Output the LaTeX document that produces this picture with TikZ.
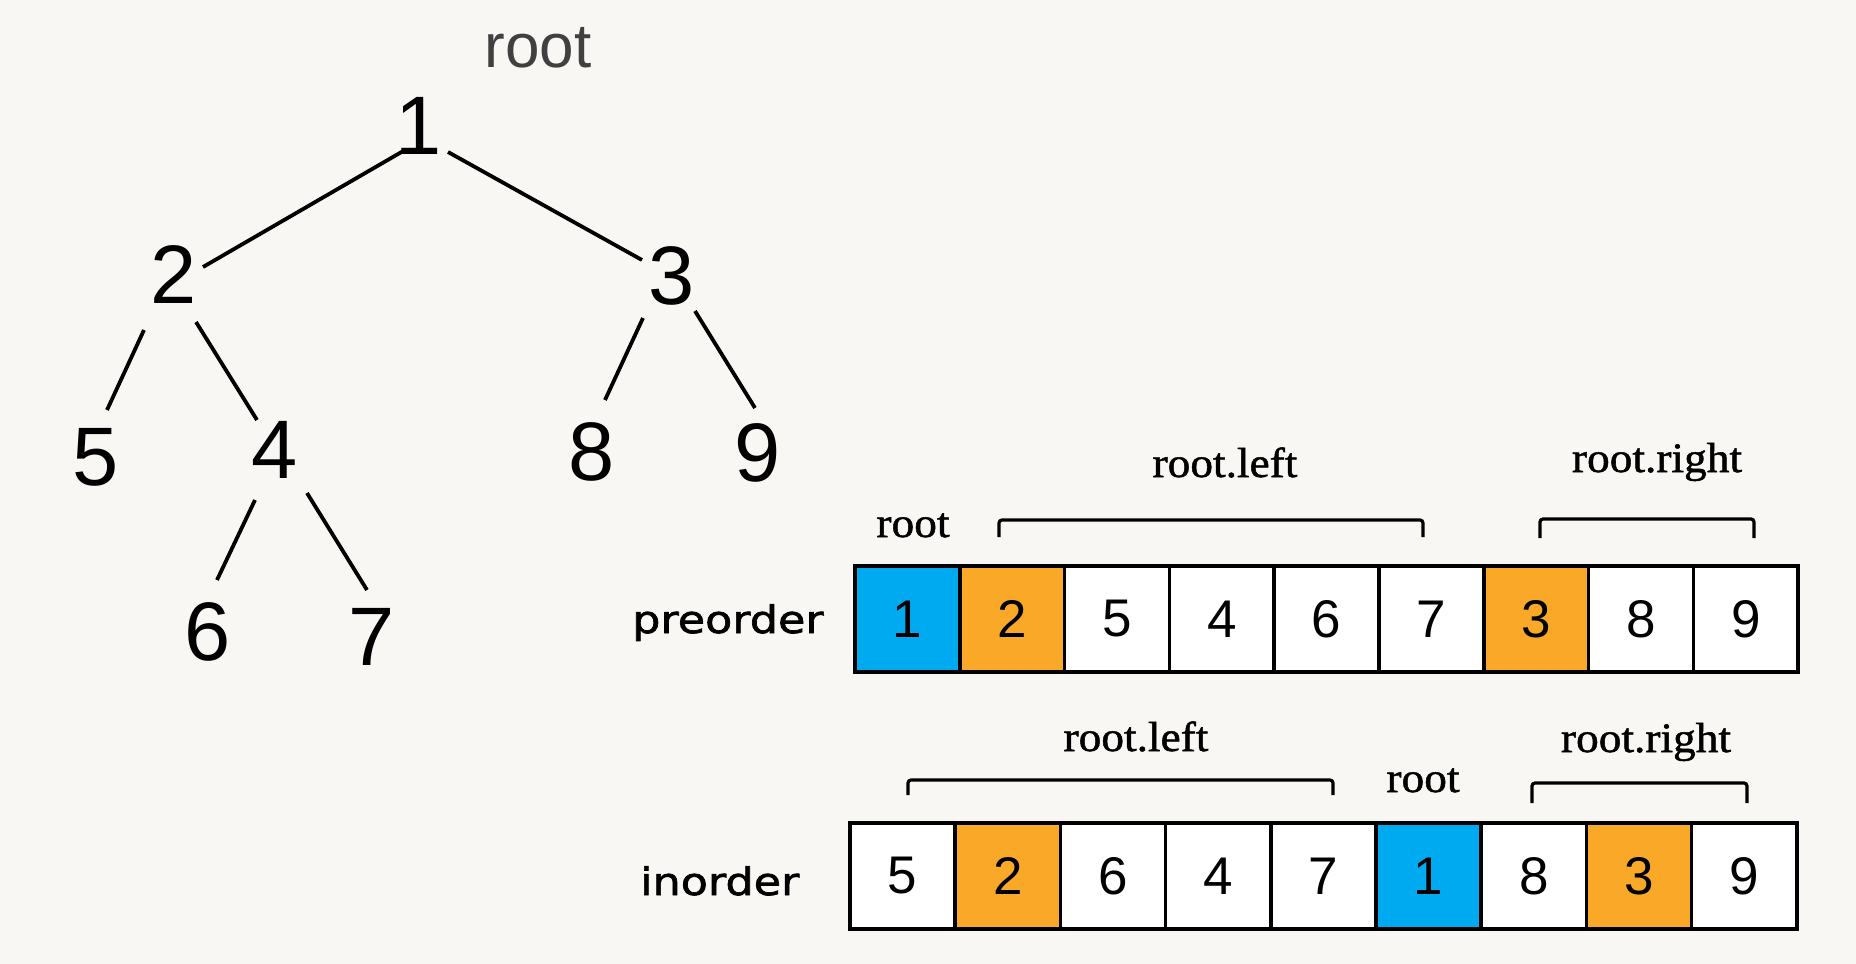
\documentclass[tikz,border=0pt]{standalone}
\usepackage{fontspec}
\setmainfont{Liberation Sans}
\newfontfamily\labserif[FakeStretch=1.08,FakeBold=1.2]{Liberation Serif}
\newfontfamily\handf[FakeStretch=1.17,FakeBold=1.8]{DejaVu Sans}
\definecolor{bgc}{RGB}{248,247,244}
\definecolor{bluec}{RGB}{0,170,240}
\definecolor{orangec}{RGB}{249,168,40}
\begin{document}
\begin{tikzpicture}[x=1pt,y=-1pt,
  treenum/.style={inner sep=0pt,font=\fontsize{83}{90}\selectfont},
  tedge/.style={line width=3.8pt},
  cell/.style={draw,line width=3.5pt,minimum height=106pt,inner sep=0pt,
    font=\fontsize{53}{60}\selectfont,fill=white},
  brk/.style={line width=3.2pt,rounded corners=3pt},
  lab/.style={inner sep=0pt,anchor=base,font=\labserif\fontsize{42}{50}\selectfont},
  order/.style={inner sep=0pt,anchor=base west,font=\handf\fontsize{38}{46}\selectfont}]
\fill[bgc] (0,0) rectangle (1856,964);
\useasboundingbox (0,0) rectangle (1856,964);
% tree
\node[inner sep=0pt,anchor=base,font=\fontsize{62}{70}\selectfont,text=black!75] (troot) at (538,67) {root};
\node[treenum] (n1) at (419,126) {1};
\node[treenum] (n2) at (174,275) {2};
\node[treenum] (n3) at (672,276) {3};
\node[treenum] (n5) at (96,457) {5};
\node[treenum] (n4) at (275,450) {4};
\node[treenum] (n8) at (592,452) {8};
\node[treenum] (n9) at (758,453) {9};
\node[treenum] (n6) at (208,632) {6};
\node[treenum] (n7) at (372,637) {7};
\draw[tedge] ([shift={(-14,24)}]n1.center) -- ([shift={(29,-8)}]n2.center);
\draw[tedge] ([shift={(29,26)}]n1.center) -- ([shift={(-30,-16)}]n3.center);
\draw[tedge] ([shift={(-30,55)}]n2.center) -- ([shift={(11,-47)}]n5.center);
\draw[tedge] ([shift={(22,47)}]n2.center) -- ([shift={(-18,-30)}]n4.center);
\draw[tedge] ([shift={(-29,42)}]n3.center) -- ([shift={(13,-52)}]n8.center);
\draw[tedge] ([shift={(23,35)}]n3.center) -- ([shift={(-3,-45)}]n9.center);
\draw[tedge] ([shift={(-20,50)}]n4.center) -- ([shift={(9,-52)}]n6.center);
\draw[tedge] ([shift={(32,43)}]n4.center) -- ([shift={(-5,-47)}]n7.center);
% preorder
\node[order] (pre) at (632,633) {preorder};
\foreach \v/\c [count=\i] in {1/bluec,2/orangec,5/white,4/white,6/white,7/white,3/orangec,8/white,9/white}{
  \node[cell,minimum width=104.8pt,fill=\c] (p\i) at ({855+104.8*(\i-0.5)},619) {\v};
}
\node[lab] (prl) at (913,537) {root};
\node[lab] (prleft) at (1225,477) {root.left};
\node[lab] (prright) at (1657,472) {root.right};
\draw[brk] (999,537) -- (999,520) -- (1423,520) -- (1423,537);
\draw[brk] (1540,538) -- (1540,519) -- (1754,519) -- (1754,538);
% inorder
\node[order] (ino) at (640,895) {inorder};
\foreach \v/\c [count=\i] in {5/white,2/orangec,6/white,4/white,7/white,1/bluec,8/white,3/orangec,9/white}{
  \node[cell,minimum width=105.2pt,fill=\c] (q\i) at ({850+105.2*(\i-0.5)},876) {\v};
}
\node[lab] (irleft) at (1136,751) {root.left};
\node[lab] (irl) at (1423,792) {root};
\node[lab] (irright) at (1646,752) {root.right};
\draw[brk] (908,795) -- (908,780) -- (1333,780) -- (1333,795);
\draw[brk] (1532,803) -- (1532,783) -- (1747,783) -- (1747,803);
\end{tikzpicture}
\end{document}
